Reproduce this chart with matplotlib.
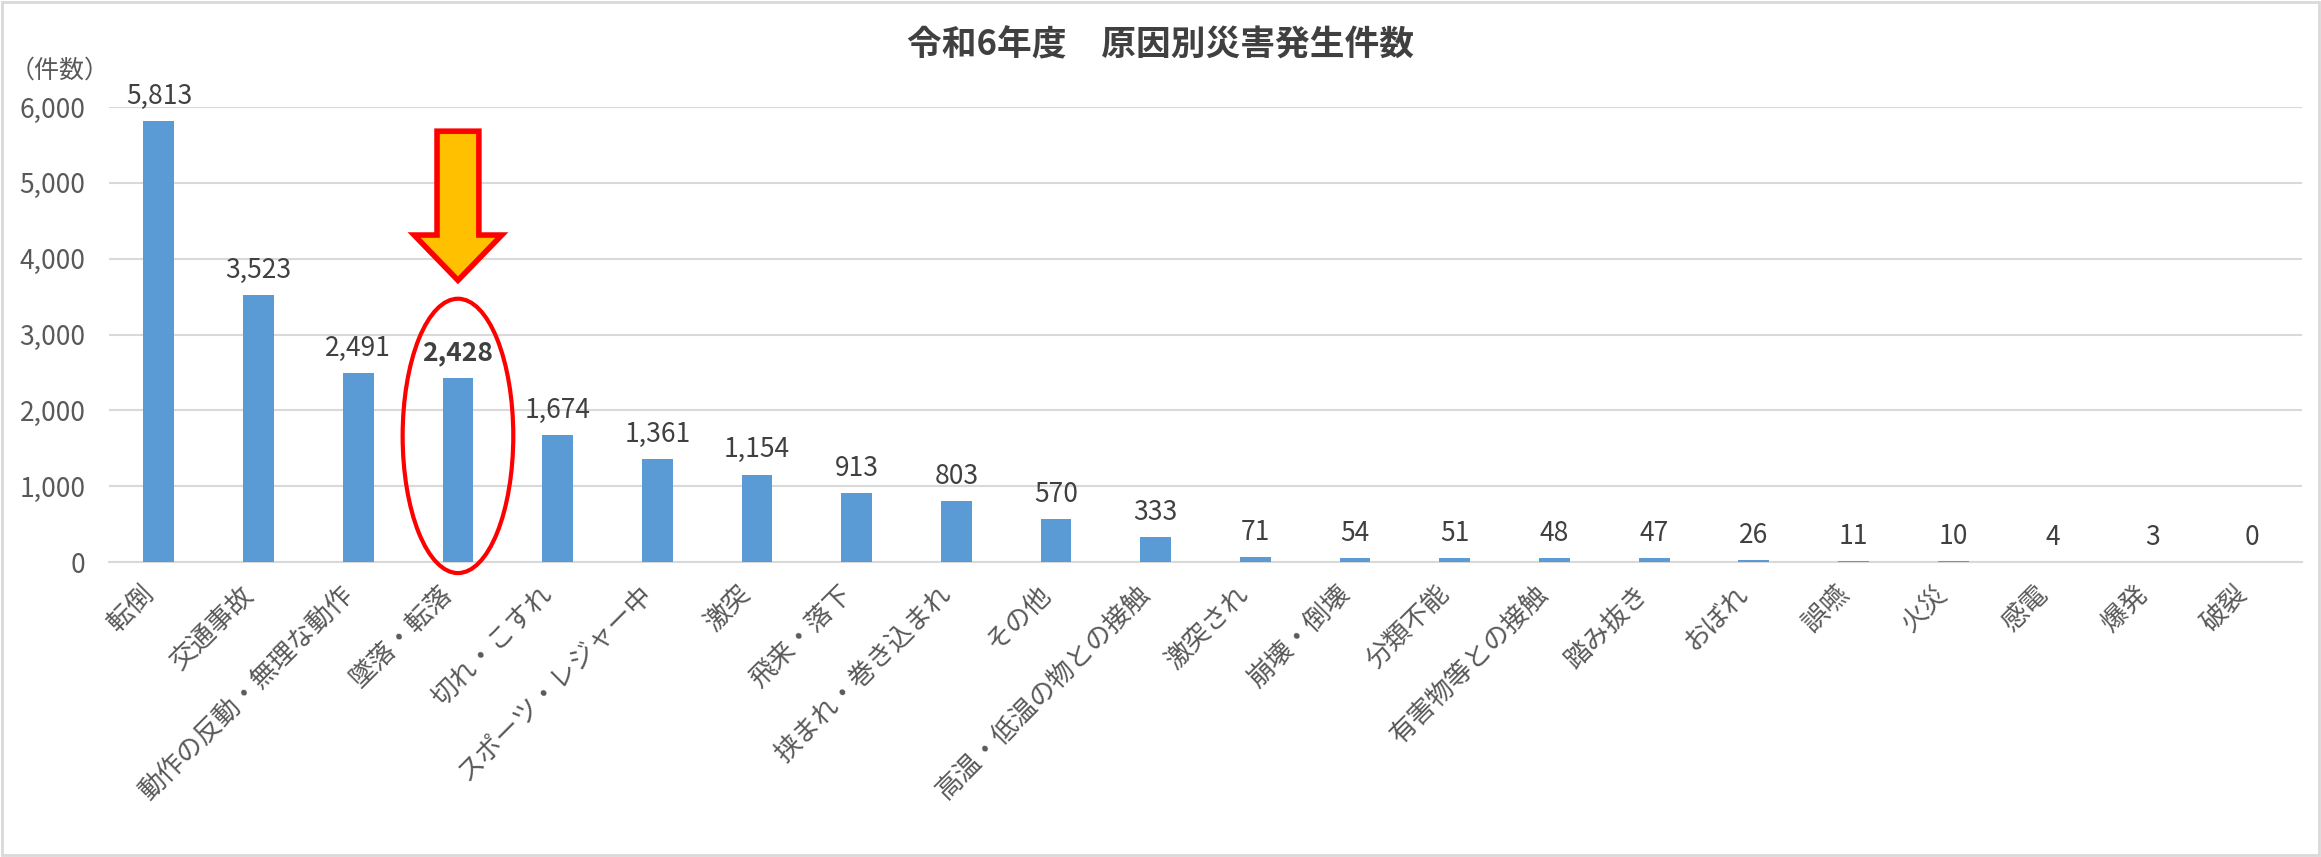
import numpy as np
import matplotlib.pyplot as plt
from matplotlib.patches import Polygon, Ellipse, Rectangle

plt.rcParams['font.family'] = ['Noto Sans CJK JP', 'DejaVu Sans']

# =========================================
# データ
# =========================================
categories = ["転倒", "交通事故", "動作の反動・無理な動作", "墜落・転落", "切れ・こすれ",
              "スポーツ・レジャー中", "激突", "飛来・落下", "挟まれ・巻き込まれ", "その他",
              "高温・低温の物との接触", "激突され", "崩壊・倒壊", "分類不能", "有害物等との接触",
              "踏み抜き", "おぼれ", "誤嚥", "火災", "感電", "爆発", "破裂"]
counts = [5813, 3523, 2491, 2428, 1674, 1361, 1154, 913, 803, 570, 333,
          71, 54, 51, 48, 47, 26, 11, 10, 4, 3, 0]
yticks = [0, 1000, 2000, 3000, 4000, 5000, 6000]
highlight = "墜落・転落"

title = "令和6年度　原因別災害発生件数"
unit = "（件数）"

# =========================================
# 図
# =========================================
bar_color = "#5B9BD5"
text_color = "#595959"
grid_color = "#D9D9D9"

fig = plt.figure(figsize=(23.21, 8.57), dpi=100)
ax = fig.add_axes([0.047, 0.3442, 0.9448, 0.5309])

x = np.arange(len(categories))
ax.bar(x, counts, width=0.31, color=bar_color, zorder=3)

ax.set_xlim(-0.5, len(categories) - 0.5)
ax.set_ylim(0, 6000)
ax.set_yticks(yticks)
ax.set_yticklabels([f"{v:,}" for v in yticks])
ax.yaxis.grid(True, color=grid_color, linewidth=1.5, zorder=0)
for s in ["top", "right", "left"]:
    ax.spines[s].set_visible(False)
ax.spines["bottom"].set_color(grid_color)
ax.spines["bottom"].set_linewidth(1.5)
ax.tick_params(axis="y", length=0, pad=17, labelsize=19, labelcolor=text_color)
ax.tick_params(axis="x", length=0, pad=27, labelsize=19, labelcolor=text_color)

ax.set_xticks(x)
ax.set_xticklabels(categories, rotation=45, ha="right", va="bottom",
                   rotation_mode="anchor")

# 値ラベル
for xi, name, v in zip(x, categories, counts):
    ax.annotate(f"{v:,}", (xi, v), xytext=(0, 8), textcoords="offset points",
                ha="center", va="bottom", fontsize=19, color="#404040",
                fontweight="bold" if name == highlight else "normal")

# 強調（楕円と矢印）
hi = categories.index(highlight)
hv = counts[hi]
ax.add_patch(Ellipse((hi, hv * 0.685), 1.11, hv * 1.49, fill=False,
                     edgecolor="#FF0000", linewidth=3, zorder=4, clip_on=False))

tip = hv * 1.53
neck = hv * 1.776
top = hv * 2.34
sw, hw = 0.21, 0.44
arrow = Polygon([(hi - sw, top), (hi + sw, top), (hi + sw, neck), (hi + hw, neck),
                 (hi, tip), (hi - hw, neck), (hi - sw, neck)], closed=True,
                facecolor="#FFC000", edgecolor="#FF0000", linewidth=4,
                joinstyle="miter", zorder=5, clip_on=False)
ax.add_patch(arrow)

fig.text(0.5, 0.948, title, ha="center", va="center", fontsize=25,
         fontweight="bold", color="#404040")
fig.text(0.004, 0.918, unit, ha="left", va="center", fontsize=18, color=text_color)

# 枠
fig.patches.append(Rectangle((0.001, 0.002), 0.998, 0.996, transform=fig.transFigure,
                             fill=False, edgecolor=grid_color, linewidth=2))

fig.savefig("out.png", dpi=100)
